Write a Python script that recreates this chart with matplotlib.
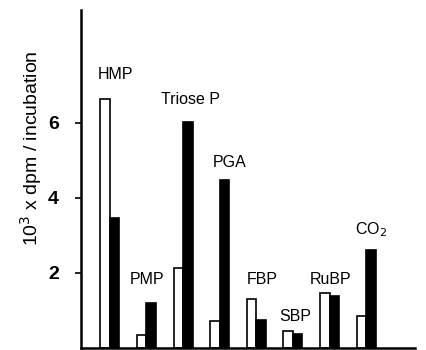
import matplotlib
matplotlib.use('Agg')
import matplotlib.pyplot as plt
import numpy as np

# compounds and counts (10^3 dpm / incubation)
compounds  = ["HMP", "PMP", "Triose P", "PGA", "FBP", "SBP", "RuBP", "CO$_2$"]
open_vals  = [6.64, 0.35, 2.13, 0.72, 1.31, 0.45, 1.47, 0.85]
solid_vals = [3.47, 1.20, 6.03, 4.48, 0.75, 0.37, 1.39, 2.61]
y_ticks    = [2, 4, 6]

# label placement: (x offset from group centre, height)
label_pos = [(-0.33, 7.28), (-0.45, 1.81), (-0.60, 6.61), (-0.19, 4.93),
             (-0.26, 1.81), (-0.38, 0.83), (-0.53, 1.81), (-0.30, 3.15)]

plt.rcParams['font.family'] = ['Liberation Sans', 'DejaVu Sans']

fig = plt.figure(figsize=(4.26, 3.5), dpi=100)
ax = fig.add_axes([0.190, 0.006, 0.784, 0.965])

x = np.arange(len(compounds))
w = 0.26
ax.bar(x - w / 2, open_vals, width=w, color="white", edgecolor="black",
       linewidth=1.2)
ax.bar(x + w / 2, solid_vals, width=w, color="black", edgecolor="black",
       linewidth=1.2)

for i, (name, (dx, yy)) in enumerate(zip(compounds, label_pos)):
    ax.text(i + dx, yy, name, ha="left", va="center", fontsize=11.5)

ax.set_xlim(-0.79, 8.33)
ax.set_ylim(0, 9)
ax.set_xticks([])
ax.set_yticks(y_ticks)
ax.set_yticklabels([str(t) for t in y_ticks], fontsize=14, fontweight="bold")
ax.tick_params(axis="y", length=4, width=1.2, pad=12)
ax.spines["top"].set_visible(False)
ax.spines["right"].set_visible(False)
ax.spines["left"].set_linewidth(1.8)
ax.spines["bottom"].set_linewidth(1.8)

fig.text(0.073, 0.577, "10$^3$ x dpm / incubation", rotation=90,
         ha="center", va="center", fontsize=14)

fig.savefig("out.png", dpi=100)
